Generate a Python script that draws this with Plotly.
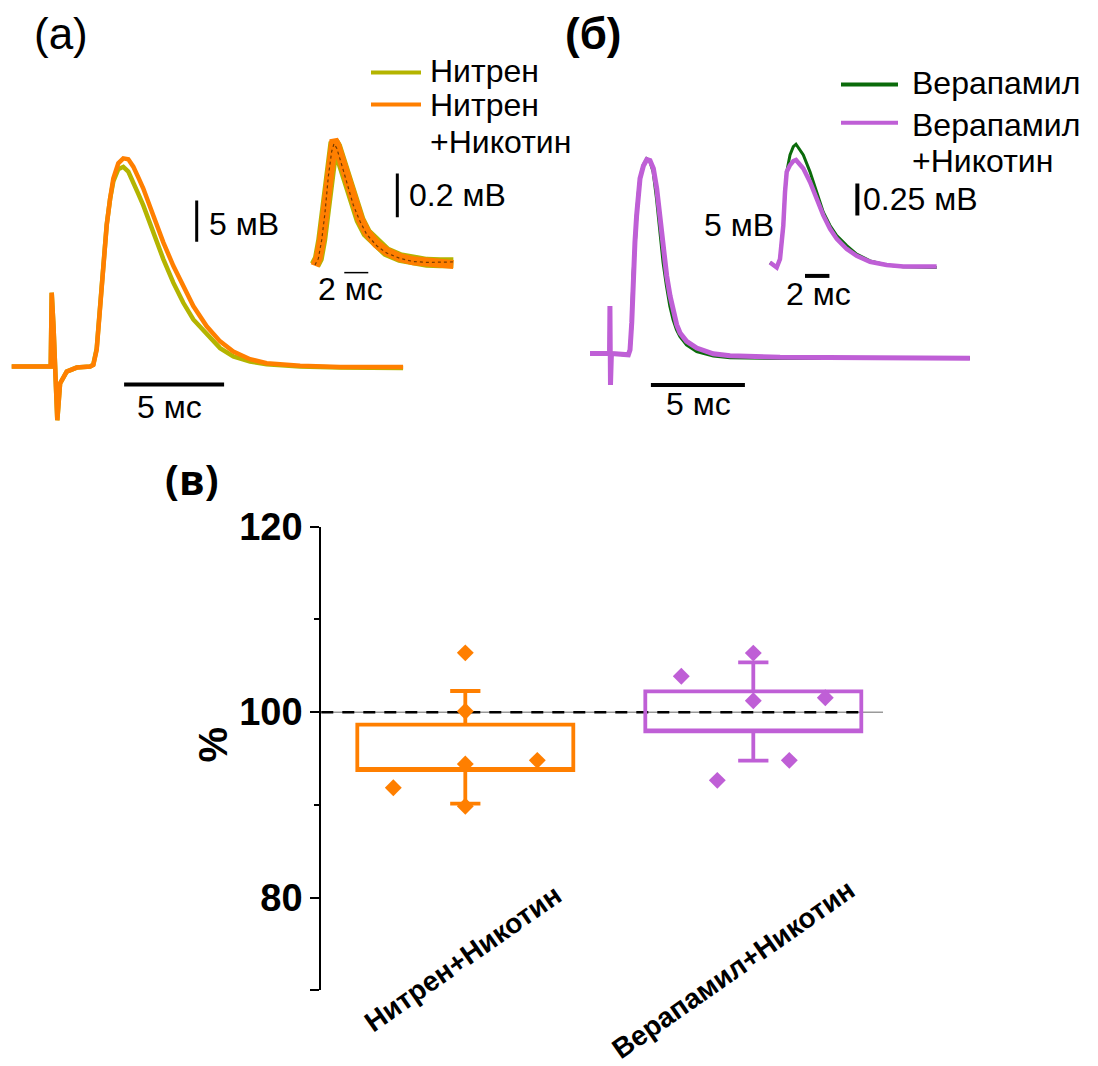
import plotly.graph_objects as go

W, H = 1098, 1066

# ---------------- data ----------------
# (а) Nitren vs Nitren + nicotine, main action potential (ms, mV)
nitren_t = [0, 1.95, 2.00, 2.09, 2.28, 2.42, 2.75, 3.25, 3.92, 4.08, 4.25, 4.42, 4.58, 4.75,
            4.92, 5.08, 5.33, 5.58, 5.83, 6.08, 6.33, 6.58, 7.08, 7.58, 8.08, 8.58, 9.08,
            9.75, 10.42, 11.08, 11.92, 12.75, 14.42, 16.42, 19.57]
nitren_mv = [0, 0, 8.94, 4.9, -6.5, -2.04, -0.61, -0.12, 0, 0.25, 2.2, 7.9, 12.8, 17.2,
             20.3, 22.4, 23.9, 24.18, 23.6, 22.35, 20.9, 19.51, 16.26, 13.01, 10.16, 7.72, 5.7,
             3.87, 2.23, 1.22, 0.61, 0.28, 0.0, -0.1, -0.18]
nitren_nic_mv = [0, 0, 8.94, 4.9, -6.5, -2.04, -0.61, -0.12, 0, 0.2, 2.04, 7.72, 12.6, 17.07,
                 20.33, 22.77, 24.6, 25.2, 25.1, 24.2, 22.9, 21.55, 18.29, 15.04, 12.2, 9.76, 7.32,
                 4.88, 3.05, 1.83, 0.89, 0.4, 0.09, -0.04, -0.06]

# (а) inset: averaged end-plate response (ms, mV)
nitren_inset_t = [0, 0.28, 0.56, 0.83, 1.11, 1.39, 1.58, 1.81, 2.22, 2.64, 3.19, 3.75, 4.31,
                  5.14, 5.97, 7.08, 8.19, 9.31, 10.42, 11.53]
nitren_inset_mv = [-0.01, 0.02, 0.105, 0.228, 0.395, 0.515, 0.553, 0.532, 0.455, 0.378, 0.272,
                   0.197, 0.137, 0.084, 0.05, 0.024, 0.009, 0.002, 0.0, 0.0]
nitren_nic_inset_mv = [-0.014, 0.024, 0.109, 0.232, 0.401, 0.525, 0.563, 0.54, 0.463, 0.386,
                       0.278, 0.202, 0.14, 0.086, 0.051, 0.024, 0.009, 0.001, -0.001, -0.008]
nitren_inset_mean_mv = [-0.01, 0.02, 0.105, 0.228, 0.395, 0.51, 0.545, 0.525, 0.45, 0.372,
                        0.265, 0.19, 0.13, 0.078, 0.045, 0.02, 0.006, 0.002, 0.002, 0.004]

# (б) Verapamil vs Verapamil + nicotine, main action potential (ms, mV)
verap_t = [0, 1.04, 1.06, 1.09, 1.14, 2.04, 2.13, 2.22, 2.30, 2.39, 2.48, 2.57, 2.66, 2.84,
           3.02, 3.19, 3.37, 3.55, 3.72, 3.90, 4.08, 4.26, 4.43, 4.61, 4.79, 5.14, 5.68,
           6.56, 7.45, 10.11, 20.21]
verap_mv = [0, 0, 5.73, -3.82, 0, -0.16, 0.45, 3.7, 9.39, 13.45, 16.71, 19.15, 21.18, 22.8,
            23.54, 23.29, 21.99, 18.74, 14.67, 11.01, 8.17, 5.73, 4.11, 2.89, 2.07, 1.06, 0.24,
            -0.28, -0.49, -0.57, -0.57]
verap_nic_mv = [0, 0, 5.73, -3.82, 0, -0.16, 0.45, 3.7, 9.39, 13.45, 16.71, 19.15, 21.18, 22.7,
                23.48, 23.35, 22.4, 19.96, 16.3, 12.65, 9.39, 6.95, 4.91, 3.5, 2.48, 1.46, 0.65,
                -0.04, -0.28, -0.45, -0.57]

# (б) inset (ms, mV)
verap_inset_t = [0, 0.55, 0.82, 1.09, 1.23, 1.37, 1.64, 1.91, 2.13, 2.73, 3.28, 3.83, 4.37,
                 4.92, 5.47, 6.29, 7.10, 8.20, 9.56, 10.93, 13.66]
verap_inset_mv = [0.026, -0.013, 0.053, 0.316, 0.578, 0.736, 0.868, 0.934, 0.953, 0.868, 0.736,
                  0.578, 0.42, 0.316, 0.237, 0.158, 0.092, 0.039, 0.006, -0.008, -0.013]
verap_nic_inset_mv = [0.026, -0.013, 0.053, 0.316, 0.578, 0.736, 0.789, 0.821, 0.829, 0.763,
                      0.657, 0.526, 0.395, 0.29, 0.211, 0.132, 0.079, 0.032, 0.006, -0.006, -0.006]

# (в) amplitude relative to control, %
categories = ["Нитрен+Никотин", "Верапамил+Никотин"]
box_q1 = [93.76, 97.93]
box_q3 = [98.65, 102.24]
whisker_low = [90.14, 94.78]
whisker_high = [102.28, 105.36]
nitren_points = [106.4, 100.1, 94.4, 89.85, 91.85, 94.8]
nitren_jitter = [0, 0, 0, 0, -0.25, 0.25]
verap_points = [106.37, 103.87, 101.23, 101.55, 94.8, 92.64]
verap_jitter = [0, -0.25, 0, 0.25, 0.125, -0.125]
reference_level = 100

# ---------------- styling ----------------
OLIVE = "#b4b400"
ORANGE = "#ff7f00"
GREEN = "#0b6b0b"
PURPLE = "#bf5fd6"
SANS = "Liberation Sans, Arial, sans-serif"
NARROW = "Liberation Sans Narrow, Arial Narrow, Liberation Sans, sans-serif"
LABEL_SIZE = 32

# vertical layout grid: positions below are laid out on a 27..1066 band
Y_TOP, Y_GAIN = 27.0, 0.973


def vy(y):
    return (y - Y_TOP) / Y_GAIN


def px_axes(x0, x1, y0, y1, origin_x, px_per_x, base_y, px_per_y):
    """Hidden axis pair whose data units map onto a pixel box of the page."""
    y0, y1, base_y = vy(y0), vy(y1), vy(base_y)
    px_per_y = px_per_y / Y_GAIN
    xa = dict(domain=[x0 / W, x1 / W],
              range=[(x0 - origin_x) / px_per_x, (x1 - origin_x) / px_per_x],
              visible=False, fixedrange=True)
    ya = dict(domain=[max(0.0, 1 - y1 / H), min(1.0, 1 - y0 / H)],
              range=[(base_y - y1) / px_per_y, (base_y - y0) / px_per_y],
              visible=False, fixedrange=True)
    return xa, ya


def px(x, y):
    return x / W, 1 - vy(y) / H


fig = go.Figure()

# panel (а) main traces
fig.add_trace(go.Scatter(x=nitren_t, y=nitren_mv, mode="lines", line=dict(color=OLIVE, width=4.5),
                         xaxis="x", yaxis="y", showlegend=False))
fig.add_trace(go.Scatter(x=nitren_t, y=nitren_nic_mv, mode="lines", line=dict(color=ORANGE, width=4.5),
                         xaxis="x", yaxis="y", showlegend=False))
# panel (а) inset
fig.add_trace(go.Scatter(x=nitren_inset_t, y=nitren_inset_mv, mode="lines",
                         line=dict(color=OLIVE, width=11), xaxis="x2", yaxis="y2", showlegend=False))
fig.add_trace(go.Scatter(x=nitren_inset_t, y=nitren_nic_inset_mv, mode="lines",
                         line=dict(color=ORANGE, width=9), xaxis="x2", yaxis="y2", showlegend=False))
fig.add_trace(go.Scatter(x=nitren_inset_t, y=nitren_inset_mean_mv, mode="lines",
                         line=dict(color="rgba(0,0,0,0.55)", width=1.2, dash="dot"),
                         xaxis="x2", yaxis="y2", showlegend=False))
# panel (б) main traces
fig.add_trace(go.Scatter(x=verap_t, y=verap_mv, mode="lines", line=dict(color=GREEN, width=3.5),
                         xaxis="x3", yaxis="y3", showlegend=False))
fig.add_trace(go.Scatter(x=verap_t, y=verap_nic_mv, mode="lines", line=dict(color=PURPLE, width=5),
                         xaxis="x3", yaxis="y3", showlegend=False))
# panel (б) inset
fig.add_trace(go.Scatter(x=verap_inset_t, y=verap_inset_mv, mode="lines",
                         line=dict(color=GREEN, width=3), xaxis="x4", yaxis="y4", showlegend=False))
fig.add_trace(go.Scatter(x=verap_inset_t, y=verap_nic_inset_mv, mode="lines",
                         line=dict(color=PURPLE, width=4.5), xaxis="x4", yaxis="y4", showlegend=False))

# panel (в) boxes and individual experiments
box_colors = [ORANGE, PURPLE]
for i in range(len(categories)):
    fig.add_trace(go.Box(x=[i], q1=[box_q1[i]], median=[box_q1[i]], q3=[box_q3[i]],
                         lowerfence=[whisker_low[i]], upperfence=[whisker_high[i]],
                         width=0.75, whiskerwidth=0.14, boxpoints=False,
                         line=dict(color=box_colors[i], width=3.8),
                         fillcolor="rgba(0,0,0,0)", xaxis="x5", yaxis="y5",
                         showlegend=False, hoverinfo="skip"))
fig.add_trace(go.Scatter(x=[0 + j for j in nitren_jitter], y=nitren_points, mode="markers",
                         marker=dict(symbol="diamond", size=13, color=ORANGE),
                         xaxis="x5", yaxis="y5", showlegend=False))
fig.add_trace(go.Scatter(x=[1 + j for j in verap_jitter], y=verap_points, mode="markers",
                         marker=dict(symbol="diamond", size=13, color=PURPLE),
                         xaxis="x5", yaxis="y5", showlegend=False))

# ---------------- axes ----------------
xa1, ya1 = px_axes(0, 420, 130, 440, 11.7, 20.0, 370, 8.2)
xa2, ya2 = px_axes(300, 470, 120, 300, 315, 12.0, 267, 216.7)
xa3, ya3 = px_axes(580, 990, 130, 440, 590, 18.8, 357, 8.2)
xa4, ya4 = px_axes(760, 960, 120, 300, 770, 12.2, 270, 126.7)

box_x0, box_x1 = 321, 883
cat_px = 288.0
cat0_px = 465.3
xa5 = dict(domain=[box_x0 / W, box_x1 / W],
           range=[(box_x0 - cat0_px) / cat_px, (box_x1 - cat0_px) / cat_px],
           visible=False, fixedrange=True)
ya5 = dict(domain=[1 - vy(989) / H, 1 - vy(529) / H], range=[70, 120],
           showline=True, linecolor="black", linewidth=1.5, mirror=False,
           ticks="outside", ticklen=9, tickwidth=1.5, tickcolor="black",
           tickvals=[70, 80, 100, 120], ticktext=["", "80", "100", "120"],
           minor=dict(tickvals=[90, 110], ticks="outside", ticklen=5, tickwidth=1.5, tickcolor="black"),
           tickfont=dict(family=NARROW, size=38, color="black", weight="bold"),
           showgrid=False, zeroline=False, fixedrange=True, ticklabelstandoff=0)

layout_axes = {}
for n, (xa, ya) in enumerate([(xa1, ya1), (xa2, ya2), (xa3, ya3), (xa4, ya4), (xa5, ya5)], start=1):
    sfx = "" if n == 1 else str(n)
    layout_axes["xaxis" + sfx] = dict(xa, anchor="y" + sfx)
    layout_axes["yaxis" + sfx] = dict(ya, anchor="x" + sfx)

# ---------------- scale bars, legend keys, reference line ----------------
shapes = []


def bar(xref, yref, x0, y0, x1, y1, width):
    shapes.append(dict(type="line", xref=xref, yref=yref, x0=x0, y0=y0, x1=x1, y1=y1,
                       line=dict(color="black", width=width)))


# (а) 5 ms / 5 mV
bar("x", "y", 5.62, -2.16, 5.62 + 5, -2.16, 4)
bar("x", "y", 9.25, 15.1, 9.25, 15.1 + 5, 3)
# (а) inset 2 ms / 0.2 mV
bar("x2", "y2", 2.44, -0.045, 2.44 + 2, -0.045, 1.5)
bar("x2", "y2", 6.86, 0.209, 6.86, 0.209 + 0.2, 3)
# (б) 5 ms
bar("x3", "y3", 3.24, -3.82, 3.24 + 5, -3.82, 4)
# (б) inset 2 ms / 0.25 mV
bar("x4", "y4", 2.87, -0.079, 2.87 + 2, -0.079, 4)
bar("x4", "y4", 7.16, 0.395, 7.16, 0.395 + 0.25, 4)

# reference level in (в)
shapes.append(dict(type="line", xref="x5", yref="y5", x0=-0.5, x1=1.457,
                   y0=reference_level, y1=reference_level, layer="below",
                   line=dict(color="#9a9a9a", width=1.5)))
shapes.append(dict(type="line", xref="x5", yref="y5", x0=-0.5, x1=1.391,
                   y0=reference_level, y1=reference_level, layer="below",
                   line=dict(color="black", width=2.5, dash="12px,9px")))

# legend keys
for (x0, x1, y, c) in [(371, 421, 78, OLIVE), (371, 421, 110, ORANGE),
                       (841, 898, 90, GREEN), (841, 898, 128, PURPLE)]:
    a0, b0 = px(x0, y)
    a1, _ = px(x1, y)
    shapes.append(dict(type="line", xref="paper", yref="paper", x0=a0, x1=a1, y0=b0, y1=b0,
                       line=dict(color=c, width=4)))

# ---------------- text ----------------
annotations = []


def text(s, x, y, size, xanchor="center", family=SANS, weight="normal", angle=0):
    ax, ay = px(x, y)
    annotations.append(dict(text=s, x=ax, y=ay, xref="paper", yref="paper",
                            xanchor=xanchor, yanchor="middle", showarrow=False,
                            textangle=angle,
                            font=dict(family=family, size=size, color="black", weight=weight)))


text("(а)", 61, 39, 44)
text("(б)", 593, 39, 44, weight="bold")
text("(в)", 192, 482, 41, family="Open Sans, sans-serif", weight="bold")

text("Нитрен", 428, 77, LABEL_SIZE, xanchor="left")
text("Нитрен", 428, 110, LABEL_SIZE, xanchor="left")
text("+Никотин", 428, 147, LABEL_SIZE, xanchor="left")
text("Верапамил", 910, 89, LABEL_SIZE, xanchor="left")
text("Верапамил", 910, 130, LABEL_SIZE, xanchor="left")
text("+Никотин", 910, 166, LABEL_SIZE, xanchor="left")

text("5 мВ", 207, 228, LABEL_SIZE, xanchor="left")
text("5 мс", 170, 410, LABEL_SIZE)
text("0.2 мВ", 407, 200, LABEL_SIZE, xanchor="left")
text("2 мс", 350, 293, LABEL_SIZE)

text("5 мВ", 702, 229, LABEL_SIZE, xanchor="left")
text("5 мс", 698, 407, LABEL_SIZE)
text("0.25 мВ", 861, 204, LABEL_SIZE, xanchor="left")
text("2 мс", 818, 298, LABEL_SIZE)

text("%", 213, 745, 40, weight="bold", angle=-90)
text(categories[0], 463, 958, 28, weight="bold", angle=-35)
text(categories[1], 733, 968, 28, weight="bold", angle=-35)

fig.update_layout(
    width=W, height=H, autosize=False,
    margin=dict(l=0, r=0, t=0, b=0, pad=0),
    paper_bgcolor="white", plot_bgcolor="rgba(0,0,0,0)",
    shapes=shapes, annotations=annotations, showlegend=False,
    **layout_axes,
)

fig.write_html("out.html")
